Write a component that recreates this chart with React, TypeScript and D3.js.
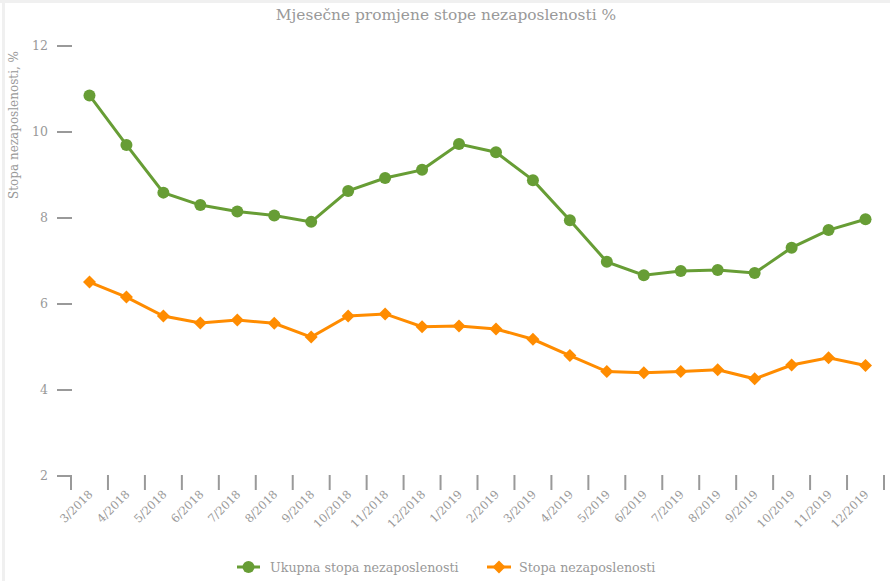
import React from "react";
import * as d3 from "d3";

const categories = ["3/2018","4/2018","5/2018","6/2018","7/2018","8/2018","9/2018","10/2018","11/2018","12/2018","1/2019","2/2019","3/2019","4/2019","5/2019","6/2019","7/2019","8/2019","9/2019","10/2019","11/2019","12/2019"];
const ukupna = [10.85,9.70,8.59,8.30,8.15,8.06,7.91,8.63,8.93,9.12,9.72,9.53,8.88,7.95,6.98,6.67,6.77,6.79,6.72,7.31,7.72,7.97];
const stopa = [6.51,6.16,5.72,5.56,5.63,5.55,5.23,5.72,5.77,5.47,5.49,5.42,5.18,4.80,4.43,4.40,4.43,4.47,4.26,4.58,4.75,4.57];
const yTicks = [2,4,6,8,10,12];

const W = 890, H = 581;
const GREEN = "#679d35";
const ORANGE = "#ff8c00";
const GREY = "#999999";
const FONT = "'DejaVu Serif', serif";

export default function App() {
  const x = d3.scaleBand<string>().domain(categories).range([71, 884]);
  const y = d3.scaleLinear().domain([2, 12]).range([476, 46]);
  const cx = (c: string) => (x(c) as number) + x.bandwidth() / 2;
  const line = d3.line<number>().x((_, i) => cx(categories[i])).y((d) => y(d));
  const diamond = (px: number, py: number, r: number) =>
    `M${px},${py - r}L${px + r},${py}L${px},${py + r}L${px - r},${py}Z`;

  return (
    <svg width={W} height={H} style={{ position: "absolute", left: 0, top: 0, background: "#fff" }}>
      <rect x={0} y={0} width={W} height={3} fill="#f0f0f0" />
      <rect x={2} y={0} width={3} height={H} fill="#f0f0f0" />
      <text x={446} y={20} textAnchor="middle" fontFamily={FONT} fontSize={15.4} fill={GREY}>
        Mjesečne promjene stope nezaposlenosti %
      </text>
      <text transform="translate(18,125) rotate(-90)" textAnchor="middle" fontFamily={FONT} fontSize={12} fill={GREY}>
        Stopa nezaposlenosti, %
      </text>
      {yTicks.map((t) => (
        <g key={t}>
          <line x1={57} x2={72} y1={y(t)} y2={y(t)} stroke={GREY} strokeWidth={2} />
          <text x={48} y={y(t) + 4} textAnchor="end" fontFamily={FONT} fontSize={12.5} fill={GREY}>{t}</text>
        </g>
      ))}
      {categories.concat([""]).map((c, i) => {
        const px = 71 + i * x.bandwidth();
        return <line key={"t" + i} x1={px} x2={px} y1={475} y2={490} stroke={GREY} strokeWidth={2} />;
      })}
      {categories.map((c) => (
        <text key={c} transform={`translate(${cx(c) + 4},${495}) rotate(-45)`} textAnchor="end" fontFamily={FONT} fontSize={11.5} fill={GREY}>
          {c}
        </text>
      ))}
      <path d={line(ukupna) || ""} fill="none" stroke={GREEN} strokeWidth={3} />
      {ukupna.map((v, i) => (
        <circle key={"g" + i} cx={cx(categories[i])} cy={y(v)} r={6} fill={GREEN} />
      ))}
      <path d={line(stopa) || ""} fill="none" stroke={ORANGE} strokeWidth={3} />
      {stopa.map((v, i) => (
        <path key={"o" + i} d={diamond(cx(categories[i]), y(v), 6.5)} fill={ORANGE} />
      ))}
      <g>
        <line x1={237} x2={260} y1={567} y2={567} stroke={GREEN} strokeWidth={3} />
        <circle cx={248.5} cy={567} r={6} fill={GREEN} />
        <text x={270} y={571.5} fontFamily={FONT} fontSize={12.7} fill={GREY}>Ukupna stopa nezaposlenosti</text>
        <line x1={487} x2={511} y1={567} y2={567} stroke={ORANGE} strokeWidth={3} />
        <path d={diamond(499, 567, 6.5)} fill={ORANGE} />
        <text x={519} y={571.5} fontFamily={FONT} fontSize={12.7} fill={GREY}>Stopa nezaposlenosti</text>
      </g>
    </svg>
  );
}
